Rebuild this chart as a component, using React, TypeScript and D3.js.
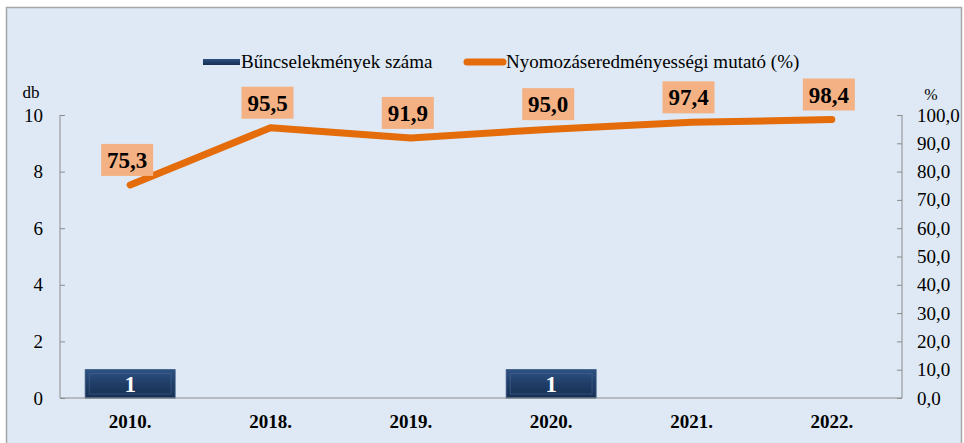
import React, { useEffect, useRef } from 'react';
import * as d3 from 'd3';

// adatok
const years = ['2010.', '2018.', '2019.', '2020.', '2021.', '2022.'];
const crimeCounts = [1, 0, 0, 1, 0, 0];
const successRates = [75.3, 95.5, 91.9, 95.0, 97.4, 98.4];
const leftTicks = [0, 2, 4, 6, 8, 10];
const rightTicks = [0, 10, 20, 30, 40, 50, 60, 70, 80, 90, 100];

const W = 964;
const H = 443;

const App = () => {
  const ref = useRef<SVGSVGElement | null>(null);

  useEffect(() => {
    const svg = d3.select(ref.current);
    svg.selectAll('*').remove();

    const fmt = (v: number) => v.toFixed(1).replace('.', ',');
    const font = "'Liberation Serif', 'Times New Roman', serif";

    const margin = { left: 60, right: 62, top: 115, bottom: 45 };
    const innerW = W - margin.left - margin.right;
    const innerH = H - margin.top - margin.bottom;

    // gradiens az oszlopokhoz
    const defs = svg.append('defs');
    const grad = defs.append('linearGradient')
      .attr('id', 'barGrad').attr('x1', 0).attr('y1', 0).attr('x2', 0).attr('y2', 1);
    grad.append('stop').attr('offset', '0%').attr('stop-color', '#2f5283');
    grad.append('stop').attr('offset', '50%').attr('stop-color', '#1f3d66');
    grad.append('stop').attr('offset', '100%').attr('stop-color', '#172f52');

    // háttér + keret
    svg.append('rect')
      .attr('x', 6.5).attr('y', 7.5)
      .attr('width', W - 9).attr('height', H - 6)
      .attr('fill', '#dee9f5')
      .attr('stroke', '#a6a6a6')
      .attr('stroke-width', 1.5);

    const g = svg.append('g')
      .attr('transform', `translate(${margin.left},${margin.top})`);

    const x = d3.scaleBand<string>()
      .domain(years)
      .range([0, innerW])
      .paddingInner(0.36)
      .paddingOuter(0.18);

    const xc = (d: string) => (x(d) as number) + x.bandwidth() / 2;

    const yLeft = d3.scaleLinear().domain([0, 10]).range([innerH, 0]);
    const yRight = d3.scaleLinear().domain([0, 100]).range([innerH, 0]);

    // bal tengely
    const leftAxis = d3.axisLeft(yLeft)
      .tickValues(leftTicks)
      .tickSize(-5)
      .tickPadding(17)
      .tickFormat(d => `${d}`);
    const la = g.append('g').call(leftAxis).attr('font-family', font);
    la.select('.domain').attr('stroke', '#8c8c8c').attr('d', `M0,0V${innerH}`);
    la.selectAll('.tick line').attr('stroke', '#8c8c8c');
    la.selectAll('text')
      .style('font-family', font).attr('font-size', 19).attr('fill', '#000');

    // jobb tengely
    const rightAxis = d3.axisRight(yRight)
      .tickValues(rightTicks)
      .tickSize(-5)
      .tickPadding(15)
      .tickFormat(d => fmt(d as number));
    const ra = g.append('g')
      .attr('transform', `translate(${innerW},0)`)
      .call(rightAxis)
      .attr('font-family', font);
    ra.select('.domain').attr('stroke', '#8c8c8c').attr('d', `M0,0V${innerH}`);
    ra.selectAll('.tick line').attr('stroke', '#8c8c8c');
    ra.selectAll('text')
      .style('font-family', font).attr('font-size', 19).attr('fill', '#000');

    // tengelycímek
    g.append('text')
      .attr('x', -29).attr('y', -17)
      .attr('text-anchor', 'middle')
      .style('font-family', font).attr('font-size', 17)
      .text('db');
    g.append('text')
      .attr('x', innerW + 29).attr('y', -15)
      .attr('text-anchor', 'middle')
      .style('font-family', font).attr('font-size', 16)
      .text('%');

    // oszlopok
    const bars = g.selectAll('.bar')
      .data(years.map((y, i) => ({ year: y, value: crimeCounts[i] })).filter(d => d.value > 0))
      .enter().append('g').attr('class', 'bar');

    bars.append('rect')
      .attr('x', d => x(d.year) as number)
      .attr('y', d => yLeft(d.value))
      .attr('width', x.bandwidth())
      .attr('height', d => innerH - yLeft(d.value))
      .attr('fill', 'url(#barGrad)')
      .attr('stroke', '#35557f')
      .attr('stroke-width', 1);

    // domború szél
    bars.append('rect')
      .attr('x', d => (x(d.year) as number) + 4)
      .attr('y', d => yLeft(d.value) + 4)
      .attr('width', x.bandwidth() - 8)
      .attr('height', d => innerH - yLeft(d.value) - 8)
      .attr('fill', 'none')
      .attr('stroke', '#4d6e9c')
      .attr('stroke-opacity', 0.5)
      .attr('stroke-width', 1);

    bars.append('text')
      .attr('x', d => xc(d.year))
      .attr('y', d => (yLeft(d.value) + innerH) / 2 + 8)
      .attr('text-anchor', 'middle')
      .style('font-family', font).attr('font-size', 23).attr('font-weight', 'bold')
      .attr('fill', '#fff')
      .text(d => d.value);

    // x tengely vonal
    g.append('line')
      .attr('x1', 0).attr('x2', innerW)
      .attr('y1', innerH).attr('y2', innerH)
      .attr('stroke', '#8c8c8c');

    g.selectAll('.xlabel')
      .data(years)
      .enter().append('text')
      .attr('class', 'xlabel')
      .attr('x', d => xc(d))
      .attr('y', innerH + 30)
      .attr('text-anchor', 'middle')
      .style('font-family', font).attr('font-size', 19).attr('font-weight', 'bold')
      .text(d => d);

    // vonal
    const pts = years.map((y, i) => ({ year: y, value: successRates[i] }));
    const line = d3.line<{ year: string; value: number }>()
      .x(d => xc(d.year))
      .y(d => yRight(d.value));

    g.append('path')
      .datum(pts)
      .attr('d', line)
      .attr('fill', 'none')
      .attr('stroke', '#e46c0a')
      .attr('stroke-width', 7)
      .attr('stroke-linecap', 'round')
      .attr('stroke-linejoin', 'round');

    // címkék
    const lbl = g.selectAll('.lbl')
      .data(pts)
      .enter().append('g').attr('class', 'lbl')
      .attr('transform', d => `translate(${xc(d.year) - 3},${yRight(d.value) - 9})`);

    lbl.append('rect')
      .attr('x', -26).attr('y', -32)
      .attr('width', 52).attr('height', 32)
      .attr('fill', '#f4b183');

    lbl.append('text')
      .attr('x', 0).attr('y', -8)
      .attr('text-anchor', 'middle')
      .style('font-family', font).attr('font-size', 23).attr('font-weight', 'bold')
      .attr('fill', '#000')
      .text(d => fmt(d.value));

    // jelmagyarázat
    const legend = svg.append('g').attr('transform', 'translate(203,62)');
    legend.append('rect')
      .attr('x', 0).attr('y', -3)
      .attr('width', 37).attr('height', 6)
      .attr('fill', 'url(#barGrad)');
    legend.append('text')
      .attr('x', 38).attr('y', 6)
      .style('font-family', font).attr('font-size', 19)
      .text('Bűncselekmények száma');
    legend.append('line')
      .attr('x1', 264).attr('x2', 300)
      .attr('y1', 0).attr('y2', 0)
      .attr('stroke', '#e46c0a')
      .attr('stroke-width', 7)
      .attr('stroke-linecap', 'round');
    legend.append('text')
      .attr('x', 303).attr('y', 6)
      .style('font-family', font).attr('font-size', 19)
      .text('Nyomozáseredményességi mutató (%)');
  }, []);

  return (
    <svg ref={ref} width={W} height={H} style={{ display: 'block', position: 'absolute', left: 0, top: 0 }} />
  );
};

export default App;
